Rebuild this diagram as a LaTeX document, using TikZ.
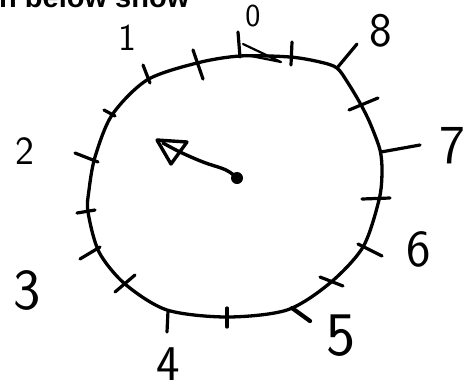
\documentclass[tikz,border=0pt]{standalone}
\usepackage{fontspec}
\newfontfamily\headfont{Liberation Sans}
\begin{document}
\begin{tikzpicture}[x=1pt,y=-1pt,line cap=round,line join=round,
  dial/.style={line width=3.3pt},
  tickmark/.style={line width=3.2pt},
  handline/.style={line width=3.4pt},
  digit/.style={inner sep=0pt}]
\useasboundingbox (0,0) rectangle (465,389);
\begin{scope}
\clip (0,0) rectangle (465,389);
\node[anchor=base west,inner sep=0pt,font=\headfont\bfseries\fontsize{29}{29}\selectfont] (head) at (-1,7) {n below show};
\end{scope}
% dial outline
\draw[dial] plot[smooth cycle,tension=0.5] coordinates {
 (240,56) (290,57) (320,62) (337,68) (348,83) (360,103) (370,123) (380,150)
 (382,172) (379,200) (363,247)
 (330,283) (287,310) (227,317) (167,310) (125,284) (99,252) (88,212) (89,190)
 (95,157) (112,115) (147,80) (197,63)};
% ticks
\draw[tickmark] (238,32) -- (240,57);
\draw[line width=2.2pt] (243,44) -- (281,62) -- (246,55);
\draw[tickmark] (292,42) -- (291,65);
\draw[tickmark] (337,68) -- (357,44);
\draw[tickmark] (349,110) -- (378,98);
\draw[tickmark] (381,152) -- (420,145);
\draw[tickmark] (362,199) -- (390,198);
\draw[tickmark] (358,244) -- (382,256);
\draw[tickmark] (320,277) -- (343,286);
\draw[line width=4.2pt] (292,308) -- (310,321);
\draw[tickmark] (227,308) -- (227,327);
\draw[tickmark] (168,311) -- (167,332);
\draw[tickmark] (115,292) -- (135,275);
\draw[tickmark] (80,259) -- (100,247);
\draw[tickmark] (77,213) -- (95,210);
\draw[tickmark] (75,153) -- (98,162);
\draw[tickmark] (104,110) -- (115,116);
\draw[tickmark] (143,65) -- (150,83);
\draw[tickmark] (193,50) -- (203,79);
% hand
\fill (237,178) circle (6);
\draw[handline] plot[smooth,tension=0.6] coordinates {(237,178) (226,170) (203,162) (180,152) (163,143)};
\draw[handline] (157,140) -- (187,142) -- (171,164) -- cycle;
% labels
\node[digit,font=\sffamily\fontsize{32}{32}\selectfont] (l0) at (253,16) {0};
\node[digit,font=\sffamily\fontsize{38}{38}\selectfont] (l1) at (127,38) {1};
\node[digit,font=\sffamily\fontsize{40}{40}\selectfont] (l2) at (25,151) {2};
\node[digit,font=\sffamily\fontsize{58}{58}\selectfont] (l3) at (27,290) {3};
\node[digit,font=\sffamily\fontsize{50}{50}\selectfont] (l4) at (168,364) {4};
\node[digit,font=\sffamily\fontsize{62}{62}\selectfont] (l5) at (341,336) {5};
\node[digit,font=\sffamily\fontsize{52}{52}\selectfont] (l6) at (419,249) {6};
\node[digit,font=\sffamily\fontsize{55}{55}\selectfont] (l7) at (452,146) {7};
\node[digit,font=\sffamily\fontsize{48}{48}\selectfont] (l8) at (381,31) {8};
\end{tikzpicture}
\end{document}
